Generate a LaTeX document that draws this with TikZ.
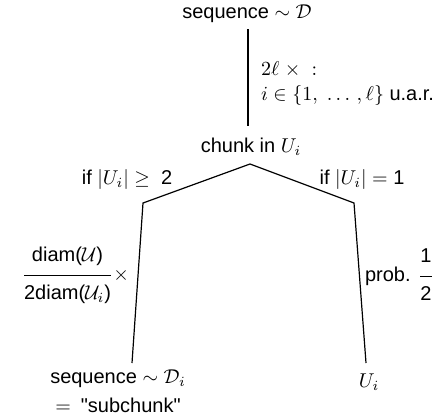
\documentclass[tikz,border=0pt]{standalone}
\usepackage{amsmath}
\usepackage[no-math]{fontspec}
\setmainfont{Liberation Sans}[Ligatures=TeXOff]
\begin{document}
\begin{tikzpicture}[x=0.5pt,y=-0.5pt,
  txt/.style={inner sep=0pt, outer sep=0pt},
  trunk/.style={line width=0.8pt},
  branch/.style={line width=0.6pt, line join=miter}]
\useasboundingbox (0,0) rectangle (432,419);
\node[txt,anchor=base] (seq) at (247,18) {sequence $\sim\mathcal{D}$};
\node[txt,anchor=base] (chunk) at (251,152) {chunk in $U_i$};
\coordinate (v1) at (248,29);
\coordinate (v2) at (248,126);
\draw[trunk] (v1) -- (v2);
\node[txt,anchor=north west,align=left] (rep) at (261,62)
  {$2\ell\;\times\;:$\\[0.5pt]$i\in\{1,\ \ldots\,,\ell\}$ u.a.r.};
\coordinate (apex) at (250,164);
\coordinate (sL) at (143,203);
\coordinate (sR) at (354,203);
\coordinate (bL) at (132,363);
\coordinate (bR) at (366,363);
\draw[branch] (bL) -- (sL) -- (apex) -- (sR) -- (bR);
\node[txt,anchor=base] (condL) at (127,184) {if $|U_i|\geq\ \text{2}$};
\node[txt,anchor=base] (condR) at (362,184) {if $|U_i|=\text{1}$};
\node[txt,anchor=base east] (fracL) at (129,280)
  {$\dfrac{\text{diam(}\mathcal{U}\text{)}\rule[-5.6pt]{0pt}{5.6pt}}{\rule{0pt}{10.7pt}\text{2diam(}\mathcal{U}_i\text{)}}\times$};
\node[txt,anchor=base west] (prob) at (365,281)
  {prob. $\dfrac{\text{1}\rule[-5.6pt]{0pt}{5.6pt}}{\rule{0pt}{10.7pt}\text{2}}$};
\node[txt,anchor=north,align=center] (sub) at (118,370)
  {sequence $\sim\mathcal{D}_i$\\[2.5pt]$=$\hspace{5pt}"subchunk"};
\node[txt,anchor=base] (Ui) at (369,387) {$U_i$};
\end{tikzpicture}
\end{document}
